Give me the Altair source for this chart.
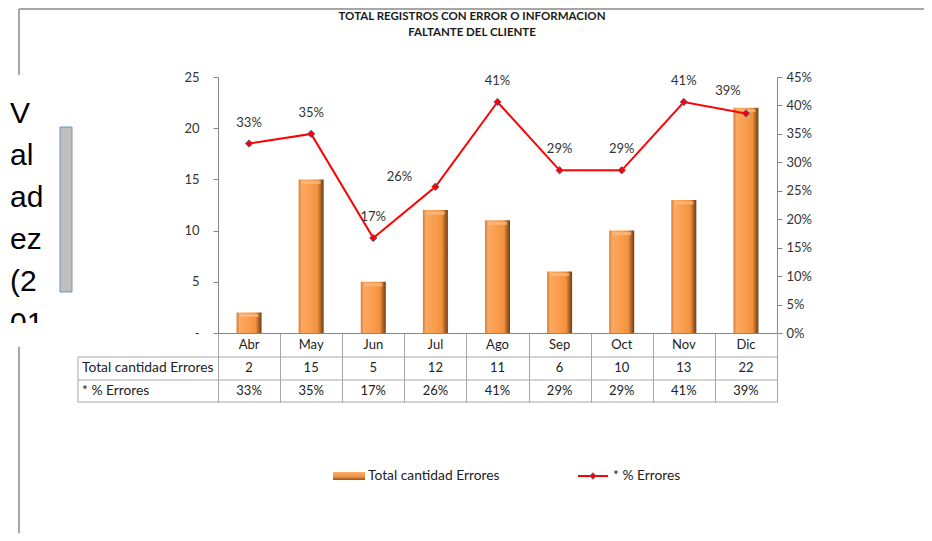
import altair as alt
import pandas as pd

# ---------------- data ----------------
months = ["Abr", "May", "Jun", "Jul", "Ago", "Sep", "Oct", "Nov", "Dic"]
errores = [2, 15, 5, 12, 11, 6, 10, 13, 22]
pct_errores = [0.333, 0.35, 0.167, 0.257, 0.406, 0.286, 0.286, 0.406, 0.386]
title_lines = ["TOTAL REGISTROS CON ERROR O INFORMACION", "FALTANTE DEL CLIENTE"]
row_labels = ["Total cantidad Errores", "* % Errores"]
legend_labels = ["Total cantidad Errores", "* % Errores"]
side_text = ["V", "al", "ad", "ez", "(2", "01"]
left_ticks = [0, 5, 10, 15, 20, 25]
right_ticks = [0, 0.05, 0.1, 0.15, 0.2, 0.25, 0.3, 0.35, 0.4, 0.45]

df = pd.DataFrame({"mes": months, "errores": errores, "pct": pct_errores})
one = pd.DataFrame({"k": [0]})

FONT = "Lato"
TXT = "#333333"
GRID = "#A6A6A6"
AXIS = "#868686"
FS = 13

W, H = 559, 256

x_enc = alt.X(
    "mes:N", sort=months, title=None,
    scale=alt.Scale(type="band", paddingInner=0, paddingOuter=0),
    axis=alt.Axis(labels=False, tickBand="extent", tickSize=69, tickColor=GRID,
                  domainColor=AXIS, ticks=True),
)
x_plain = alt.X("mes:N", sort=months, title=None,
                scale=alt.Scale(type="band", paddingInner=0, paddingOuter=0))


def rule(x1, x2, y1, y2, color=GRID, w=1.0):
    return alt.Chart(one).mark_rule(color=color, strokeWidth=w).encode(
        x=alt.value(x1), x2=alt.value(x2), y=alt.value(y1), y2=alt.value(y2))


# ---------------- bars (left axis) ----------------
bar_grad = alt.Gradient(
    gradient="linear", x1=0, x2=1, y1=0, y2=0,
    stops=[
        alt.GradientStop(color="#D27D37", offset=0),
        alt.GradientStop(color="#FCA861", offset=0.12),
        alt.GradientStop(color="#F99C4C", offset=0.5),
        alt.GradientStop(color="#F2923F", offset=0.76),
        alt.GradientStop(color="#B56828", offset=0.87),
        alt.GradientStop(color="#6E3E14", offset=1),
    ],
)
y_cnt = alt.Y("errores:Q", title=None,
              scale=alt.Scale(domain=[0, 25], nice=False),
              axis=alt.Axis(values=left_ticks, grid=False, domainColor=AXIS,
                            tickColor=AXIS, tickSize=5, labelPadding=14,
                            labelFont=FONT, labelFontSize=FS, labelColor=TXT,
                            labelExpr="datum.value == 0 ? '-' : datum.label"))
bars = alt.Chart(df).mark_bar(size=25, color=bar_grad).encode(x=x_enc, y=y_cnt)
caps = alt.Chart(df).mark_tick(orient="horizontal", size=19, thickness=3,
                               color="#FDBE86", yOffset=3).encode(x=x_plain, y=y_cnt)
bar_layer = alt.layer(bars, caps)

# ---------------- line (right axis) ----------------
y_pct = alt.Y("pct:Q", title=None,
              scale=alt.Scale(domain=[0, 0.45], nice=False),
              axis=alt.Axis(orient="right", values=right_ticks, format=".0%",
                            grid=False, domainColor=AXIS, tickColor=AXIS,
                            tickSize=5, labelPadding=4, labelFont=FONT,
                            labelFontSize=FS, labelColor=TXT))
line = alt.Chart(df).mark_line(color="#FF0000", strokeWidth=2).encode(x=x_plain, y=y_pct)
points = alt.Chart(df).mark_point(shape="diamond", size=55, fill="#FF0000",
                                  stroke="#4A5E9A", strokeWidth=0.8,
                                  fillOpacity=1, opacity=1).encode(x=x_plain, y=y_pct)
lab_style = dict(font=FONT, fontSize=FS, color=TXT, baseline="middle")
lab_main = alt.Chart(df).mark_text(dy=-21, **lab_style).encode(
    x=x_plain, y=y_pct, text=alt.Text("pct:Q", format=".0%")
).transform_filter("datum.mes != 'Jul' && datum.mes != 'Dic'")
lab_jul = alt.Chart(df).mark_text(dx=-36, dy=-10, **lab_style).encode(
    x=x_plain, y=y_pct, text=alt.Text("pct:Q", format=".0%")
).transform_filter("datum.mes == 'Jul'")
lab_dic = alt.Chart(df).mark_text(dx=-18, dy=-22, **lab_style).encode(
    x=x_plain, y=y_pct, text=alt.Text("pct:Q", format=".0%")
).transform_filter("datum.mes == 'Dic'")
line_layer = alt.layer(line, points, lab_main, lab_jul, lab_dic)

# ---------------- data table ----------------
cell = dict(font=FONT, fontSize=FS, color="#222222", baseline="middle")
hdr = alt.Chart(df).mark_text(**cell).encode(x=x_plain, y=alt.value(268), text="mes:N")
row1 = alt.Chart(df).mark_text(**cell).encode(x=x_plain, y=alt.value(291), text="errores:Q")
row2 = alt.Chart(df).mark_text(**cell).encode(
    x=x_plain, y=alt.value(314), text=alt.Text("pct:Q", format=".0%"))
rl1 = alt.Chart(pd.DataFrame({"t": [row_labels[0]]})).mark_text(
    align="left", **dict(cell, fontSize=13.8)).encode(
    x=alt.value(-136), y=alt.value(291), text="t:N")
rl2 = alt.Chart(pd.DataFrame({"t": [row_labels[1]]})).mark_text(
    align="left", **dict(cell, fontSize=13.8)).encode(
    x=alt.value(-136), y=alt.value(314), text="t:N")
table_lines = [
    rule(-140, W, 280, 280), rule(-140, W, 303, 303), rule(-140, W, 325, 325),
    rule(-140, -140, 280, 325),
]

# ---------------- title ----------------
tstyle = dict(font=FONT, fontSize=11.5, fontWeight="bold", color="#1A1A1A", baseline="middle")
t1 = alt.Chart(pd.DataFrame({"t": [title_lines[0]]})).mark_text(**tstyle).encode(
    x=alt.value(254), y=alt.value(-60), text="t:N")
t2 = alt.Chart(pd.DataFrame({"t": [title_lines[1]]})).mark_text(**tstyle).encode(
    x=alt.value(254), y=alt.value(-44), text="t:N")

# ---------------- legend ----------------
sw_grad = alt.Gradient(
    gradient="linear", x1=0, x2=0, y1=0, y2=1,
    stops=[alt.GradientStop(color="#FBB070", offset=0),
           alt.GradientStop(color="#F0913F", offset=0.6),
           alt.GradientStop(color="#8E5220", offset=1)])
leg_sw = alt.Chart(one).mark_rect(color=sw_grad).encode(
    x=alt.value(115), x2=alt.value(147), y=alt.value(395), y2=alt.value(403))
leg_t1 = alt.Chart(pd.DataFrame({"t": [legend_labels[0]]})).mark_text(
    align="left", **dict(cell, fontSize=13.8)).encode(x=alt.value(150), y=alt.value(399), text="t:N")
leg_line = rule(360, 390, 399, 399, color="#FF0000", w=2)
leg_pt = alt.Chart(one).mark_point(shape="diamond", size=45, fill="#FF0000",
                                   stroke="#4A5E9A", strokeWidth=0.8,
                                   fillOpacity=1, opacity=1).encode(
    x=alt.value(375), y=alt.value(399))
leg_t2 = alt.Chart(pd.DataFrame({"t": [legend_labels[1]]})).mark_text(
    align="left", **dict(cell, fontSize=13.8)).encode(x=alt.value(395), y=alt.value(399), text="t:N")

# ---------------- slide decorations ----------------
frame = [
    rule(-199, 714, -68, -68, color="#A6A6A6", w=2),
    rule(-199, -199, -68, -2, color="#A6A6A6", w=2),
    rule(-199, -199, 266, 456, color="#A6A6A6", w=2),
]
side_df = pd.DataFrame({"t": side_text, "yy": [46, 88, 130, 172, 214, 256]})
side = alt.Chart(side_df).mark_text(font="Liberation Sans", fontSize=30, color="#000000",
                                    align="left", baseline="alphabetic").encode(
    x=alt.value(-208), y=alt.Y("yy:Q", scale=None), text="t:N")
cover = alt.Chart(one).mark_rect(color="#FFFFFF").encode(
    x=alt.value(-210), x2=alt.value(-160), y=alt.value(246), y2=alt.value(270))
gray_box = alt.Chart(one).mark_rect(fill="#BFBFBF", stroke="#7793BC", strokeWidth=1).encode(
    x=alt.value(-158), x2=alt.value(-146), y=alt.value(50), y2=alt.value(215))

main = alt.layer(bar_layer, line_layer).resolve_scale(y="independent")

chart = alt.layer(
    main, *table_lines, hdr, row1, row2, rl1, rl2, t1, t2,
    leg_sw, leg_t1, leg_line, leg_pt, leg_t2,
    *frame, side, cover, gray_box,
).properties(
    width=W, height=H,
    padding={"left": 210, "top": 69, "right": 147, "bottom": 200},
    autosize=alt.AutoSizeParams(type="none"),
).configure_view(stroke=None)

chart.save("out.html", embed_options={"renderer": "svg", "actions": False})
